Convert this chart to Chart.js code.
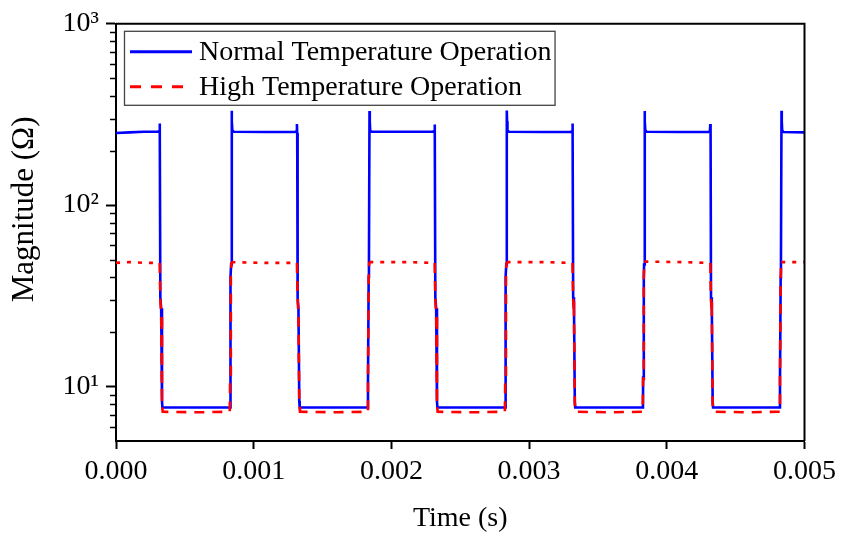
<!doctype html>
<html lang="en">
<head>
<meta charset="utf-8">
<title>Magnitude vs Time</title>
<script src="https://cdn.jsdelivr.net/npm/chart.js@4"></script>
<style>
  html, body { margin: 0; padding: 0; background: #fff; }
  #wrap { width: 842px; height: 539px; }
</style>
</head>
<body>
<div id="wrap"><canvas id="chart"></canvas></div>
<script>
// Normal temperature trace: time (s) and impedance magnitude (ohm)
const normalTime = [
  0, 0.00010, 0.00020, 0.000305, 0.000314, 0.000317, 0.000319, 0.000322, 0.000328, 0.000334, 0.000337,
  0.00060, 0.000828, 0.000829, 0.000834, 0.000836, 0.000840, 0.000842, 0.000845, 0.000855,
  0.00110, 0.001300, 0.001311, 0.001314, 0.001316, 0.001319, 0.001325, 0.001331, 0.001334,
  0.00160, 0.001829, 0.001830, 0.001835, 0.001837, 0.001841, 0.001843, 0.001846, 0.001856,
  0.00210, 0.002300, 0.002311, 0.002314, 0.002316, 0.002319, 0.002325, 0.002331, 0.002334,
  0.00260, 0.002826, 0.002827, 0.002832, 0.002834, 0.002838, 0.002840, 0.002843, 0.002853,
  0.00310, 0.003301, 0.003312, 0.003315, 0.003317, 0.003320, 0.003326, 0.003332, 0.003335,
  0.00360, 0.003827, 0.003828, 0.003833, 0.003835, 0.003839, 0.003841, 0.003844, 0.003854,
  0.00410, 0.004302, 0.004313, 0.004316, 0.004318, 0.004321, 0.004327, 0.004333, 0.004336,
  0.00460, 0.004821, 0.004822, 0.004827, 0.004829, 0.004833, 0.004835, 0.004838, 0.004848,
  0.00500
];
const normalMag = [
  250, 252, 254, 254, 256, 282, 250, 31, 27, 8.3, 7.65,
  7.65, 7.65, 10.8, 40, 47, 331, 290, 258, 254,
  253, 253, 256, 280, 250, 31, 27, 8.3, 7.65,
  7.65, 7.65, 10.8, 40, 47, 330, 290, 258, 254,
  254, 254, 256, 278, 250, 31, 27, 8.3, 7.65,
  7.65, 7.65, 10.8, 40, 47, 332, 290, 258, 254,
  253, 253, 256, 282, 250, 31, 27, 8.3, 7.65,
  7.65, 7.65, 11.2, 40, 47, 330, 290, 258, 254,
  253, 253, 256, 280, 250, 31, 27, 8.3, 7.65,
  7.65, 7.65, 10.8, 40, 47, 331, 290, 258, 253,
  252
];

// High temperature trace
const highTime = [
  0, 0.00010, 0.00020, 0.000317, 0.000322, 0.000328, 0.000334, 0.000339,
  0.00060, 0.000826, 0.000829, 0.000834, 0.000838,
  0.00110, 0.001314, 0.001319, 0.001325, 0.001331, 0.001336,
  0.00160, 0.001827, 0.001830, 0.001835, 0.001839,
  0.00210, 0.002314, 0.002319, 0.002325, 0.002331, 0.002336,
  0.00260, 0.002824, 0.002827, 0.002832, 0.002836,
  0.00310, 0.003315, 0.003320, 0.003326, 0.003332, 0.003337,
  0.00360, 0.003825, 0.003828, 0.003833, 0.003837,
  0.00410, 0.004316, 0.004321, 0.004327, 0.004333, 0.004338,
  0.00460, 0.004819, 0.004822, 0.004827, 0.004831,
  0.00500
];
const highMag = [
  48, 48.5, 48, 48, 30, 25, 8, 7.25,
  7.2, 7.25, 11, 40, 48.5,
  48, 48, 30, 25, 8, 7.25,
  7.2, 7.25, 11, 40, 48.5,
  48.5, 48, 30, 25, 8, 7.25,
  7.2, 7.25, 11, 40, 48.5,
  48.5, 48, 30, 25, 8, 7.25,
  7.2, 7.25, 11, 40, 48.8,
  48.5, 48, 30, 25, 8, 7.25,
  7.2, 7.25, 11, 40, 48.5,
  48.5
];

const xTicks = [0, 0.001, 0.002, 0.003, 0.004, 0.005];
const yMajor = [10, 100, 1000];
const yMinor = [6, 7, 8, 9, 20, 30, 40, 50, 60, 70, 80, 90, 200, 300, 400, 500, 600, 700, 800, 900];
const yLabels = { 10: '10\u00B9', 100: '10\u00B2', 1000: '10\u00B3' };
const yTitle = 'Magnitude (\u03A9)';

const serif = '"Liberation Serif", "Times New Roman", serif';

// short outward ticks for the log decades, top/right frame, y title
const frame = {
  id: 'frame',
  afterDraw(chart) {
    const { ctx, chartArea: a, scales } = chart;
    ctx.save();
    ctx.strokeStyle = '#000';
    ctx.lineWidth = 2;
    ctx.beginPath();
    ctx.moveTo(a.left, a.top);
    ctx.lineTo(a.right, a.top);
    ctx.lineTo(a.right, a.bottom);
    ctx.stroke();
    ctx.lineWidth = 1.6;
    ctx.beginPath();
    yMinor.forEach(v => {
      const py = Math.round(scales.y.getPixelForValue(v)) + 0.5;
      ctx.moveTo(a.left - 6, py);
      ctx.lineTo(a.left, py);
    });
    ctx.stroke();

    // axis title sits a little above the middle of the plot
    ctx.translate(25, (a.top + a.bottom) / 2 - 23);
    ctx.rotate(-Math.PI / 2);
    ctx.font = '31px ' + serif;
    ctx.fillStyle = '#000';
    ctx.textAlign = 'center';
    ctx.textBaseline = 'middle';
    ctx.fillText(yTitle, 0, 0);
    ctx.restore();
  }
};

// legend box drawn inside the top-left of the plot
const boxLegend = {
  id: 'boxLegend',
  afterDraw(chart) {
    const { ctx, chartArea: a } = chart;
    const sets = chart.data.datasets;
    ctx.save();
    ctx.font = '28px ' + serif;
    const textW = Math.max(...sets.map(d => ctx.measureText(d.label).width));
    const x0 = a.left + 8, y0 = a.top + 7;
    const w = 75 + textW + 3, h = 74;
    ctx.fillStyle = '#fff';
    ctx.fillRect(x0, y0, w, h);
    ctx.strokeStyle = '#444';
    ctx.lineWidth = 1.3;
    ctx.strokeRect(x0 + 0.5, y0 + 0.5, w, h);
    sets.forEach((d, i) => {
      const cy = y0 + 21 + i * 35;
      ctx.strokeStyle = d.borderColor;
      ctx.lineWidth = 3;
      ctx.setLineDash(d.legendDash || []);
      ctx.beginPath();
      ctx.moveTo(x0 + 6, cy);
      ctx.lineTo(x0 + 68, cy);
      ctx.stroke();
      ctx.setLineDash([]);
      ctx.fillStyle = '#000';
      ctx.textBaseline = 'middle';
      ctx.fillText(d.label, x0 + 75, cy + 1);
    });
    ctx.restore();
  }
};

new Chart(document.getElementById('chart'), {
  type: 'line',
  data: {
    datasets: [
      {
        label: 'Normal Temperature Operation',
        data: normalTime.map((t, i) => ({ x: t, y: normalMag[i] })),
        borderColor: '#0000ff',
        borderWidth: 2.6,
        pointRadius: 0,
        tension: 0,
        order: 1
      },
      {
        label: 'High Temperature Operation',
        data: highTime.map((t, i) => ({ x: t, y: highMag[i] })),
        borderColor: '#ff0000',
        borderWidth: 2.6,
        pointRadius: 0,
        tension: 0,
        legendDash: [11, 10],
        segment: {
          borderDash: c => (c.p0.parsed.y > 40 && c.p1.parsed.y > 40) ? [4, 7] : [10, 8]
        },
        order: 0
      }
    ]
  },
  options: {
    responsive: true,
    maintainAspectRatio: false,
    animation: false,
    layout: { padding: { top: 22, right: 36, left: 0, bottom: 0 } },
    plugins: {
      legend: { display: false },
      tooltip: { enabled: false }
    },
    scales: {
      x: {
        type: 'linear',
        min: 0,
        max: 0.005,
        afterBuildTicks: s => { s.ticks = xTicks.map(v => ({ value: v })); },
        afterFit: s => { s.height = 98; },
        ticks: {
          callback: v => v.toFixed(3),
          color: '#000',
          font: { family: serif, size: 28 },
          padding: 6,
          maxRotation: 0
        },
        grid: { drawOnChartArea: false, tickLength: 8, tickWidth: 2, tickColor: '#000' },
        border: { color: '#000', width: 2 },
        title: {
          display: true,
          text: 'Time (s)',
          color: '#000',
          font: { family: serif, size: 28 },
          padding: { top: 0, bottom: 4 }
        }
      },
      y: {
        type: 'logarithmic',
        min: 5,
        max: 1000,
        afterBuildTicks: s => { s.ticks = yMajor.map(v => ({ value: v, major: true })); },
        afterFit: s => { s.width = 116; },
        ticks: {
          callback: v => yLabels[v] || '',
          color: '#000',
          font: { family: serif, size: 28 },
          padding: 7
        },
        grid: { drawOnChartArea: false, tickLength: 10, tickWidth: 2, tickColor: '#000' },
        border: { color: '#000', width: 2 }
      }
    }
  },
  plugins: [frame, boxLegend]
});
</script>
</body>
</html>
